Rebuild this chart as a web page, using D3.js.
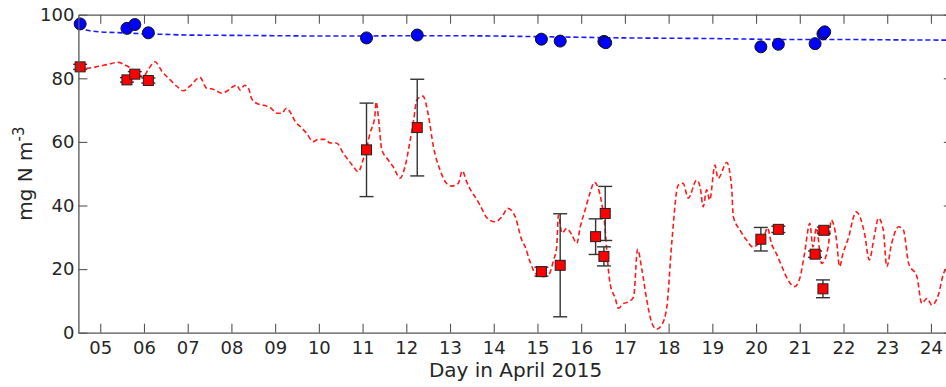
<!DOCTYPE html>
<html>
<head>
<meta charset="utf-8">
<script src="https://cdn.jsdelivr.net/npm/d3@7"></script>
<style>
  html, body { margin: 0; padding: 0; background: #fff; }
  svg { display: block; }
  text { font-family: "DejaVu Sans", sans-serif; }
</style>
</head>
<body>
<div id="chart"></div>
<script>
// x ticks: days in April 2015
const dayTicks = [5, 6, 7, 8, 9, 10, 11, 12, 13, 14, 15, 16, 17, 18, 19, 20, 21, 22, 23, 24];
const yTicks = [0, 20, 40, 60, 80, 100];

// blue dashed model line
const blueLineDays = [4.5, 4.6, 4.7, 4.85, 5.0, 5.5, 6.0, 6.5, 7, 8, 9, 10, 11, 12, 13, 14, 15, 16, 17, 18, 19, 20, 21, 22, 23, 24.5];
const blueLineVals = [96.3, 95.6, 95.1, 94.8, 94.6, 94.3, 94.0, 93.8, 93.6, 93.5, 93.4, 93.3, 93.3, 93.4, 93.4, 93.3, 93.1, 92.9, 92.7, 92.6, 92.5, 92.3, 92.2, 92.2, 92.1, 92.0];

// red dashed model line
const redLineDays = [4.5, 4.65, 4.9, 5.15, 5.41, 5.55, 5.71, 5.85, 5.98, 6.1, 6.25, 6.42, 6.6, 6.75, 6.9, 7.05, 7.28, 7.43, 7.6, 7.78, 7.9, 8.04, 8.12, 8.2, 8.3, 8.4,
  8.46, 8.58, 8.75, 8.88, 9.04, 9.15, 9.26, 9.38, 9.46, 9.6, 9.72, 9.87, 9.99, 10.14, 10.25, 10.41, 10.56, 10.7, 10.79, 10.9, 11.01, 11.1, 11.17, 11.28, 11.31, 11.36,
  11.44, 11.55, 11.7, 11.86, 11.97, 12.09, 12.17, 12.24, 12.38, 12.51, 12.62, 12.77, 12.92, 13.04, 13.19, 13.28, 13.38, 13.47, 13.57, 13.69, 13.85, 14.03, 14.19,
  14.32, 14.49, 14.64, 14.72, 14.83, 14.95, 15.1, 15.25, 15.37, 15.44, 15.48, 15.56, 15.67, 15.79, 15.9, 15.98, 16.09, 16.21, 16.3, 16.39, 16.47, 16.55, 16.59,
  16.66, 16.78, 16.85, 16.97, 17.08, 17.2, 17.29, 17.39, 17.5, 17.62, 17.73, 17.84, 17.96, 18.07, 18.22, 18.33, 18.45, 18.64, 18.72, 18.79, 18.87, 18.94, 19.06,
  19.13, 19.33, 19.44, 19.48, 19.63, 19.78, 19.93, 20.05, 20.2, 20.26, 20.35, 20.46, 20.6, 20.73, 20.88, 21.0, 21.11, 21.23, 21.3, 21.38, 21.5, 21.65, 21.72,
  21.84, 21.91, 21.99, 22.1, 22.29, 22.48, 22.59, 22.7, 22.8, 22.91, 22.99, 23.1, 23.26, 23.37, 23.49, 23.68, 23.79, 23.91, 24.02, 24.17, 24.29, 24.39, 24.5];
const redLineVals = [83.5, 83.1, 83.6, 84.3, 85.0, 84.3, 83.1, 81.5, 80.5, 82.8, 85.2, 82.0, 79.5, 77.5, 76.1, 77.5, 80.3, 76.9, 76.5, 75.3, 76.0, 77.4, 77.9, 76.3, 77.8, 76.5,
  73.7, 72.1, 71.5, 70.9, 69.0, 69.0, 70.6, 68.5, 66.4, 64.5, 62.7, 60.1, 60.8, 60.8, 59.7, 59.6, 56.4, 53.8, 52.2, 50.6, 54.3, 58.5, 62.7, 68.0, 72.6, 68.0,
  57.5, 55.0, 52.2, 48.6, 52.2, 60.6, 67.0, 73.2, 74.4, 68.0, 58.5, 51.2, 47.0, 46.1, 47.0, 50.9, 47.5, 44.9, 42.8, 40.0, 36.0, 34.9, 36.5,
  39.1, 36.5, 29.2, 27.0, 22.3, 18.7, 17.6, 18.1, 22.9, 27.0, 37.0, 31.3, 32.8, 30.7, 28.1, 33.3, 38.6, 44.3, 47.3, 45.4, 40.7, 32.3, 25.0,
  15.5, 10.8, 7.7, 9.2, 9.7, 11.3, 26.2, 19.7, 10.3, 2.9, 1.1, 2.4, 8.2, 28.0, 46.4, 47.0, 42.3, 48.0, 45.9, 39.6, 44.9, 41.7, 52.7,
  48.5, 53.5, 45.9, 36.5, 32.3, 29.2, 26.9, 28.0, 31.0, 33.0, 28.1, 25.0, 20.5, 16.6, 14.5, 17.1, 25.0, 34.4, 27.0, 33.0, 21.8, 27.0, 35.4,
  29.2, 20.8, 25.0, 29.2, 38.0, 31.3, 22.9, 30.0, 36.0, 32.3, 20.8, 28.0, 33.3, 32.3, 21.8, 17.6, 9.2, 10.8, 8.7, 11.9, 18.7, 20.8, 24.5];

// blue circle observations
const circleDays = [4.54, 5.61, 5.79, 6.10, 11.09, 12.25, 15.09, 15.52, 16.52, 16.56, 20.11, 20.51, 21.35, 21.53, 21.57];
const circleVals = [97.1, 95.7, 96.9, 94.3, 92.7, 93.6, 92.3, 91.7, 91.6, 91.2, 89.9, 90.7, 90.9, 94.0, 94.6];

// red square observations with error bars
const squareDays = [4.54, 5.61, 5.79, 6.10, 11.09, 12.25, 15.09, 15.52, 16.33, 16.55, 16.52, 20.11, 20.51, 21.35, 21.55, 21.53];
const squareVals = [83.6, 79.5, 81.3, 79.3, 57.5, 64.5, 19.2, 21.2, 30.2, 37.5, 24.0, 29.4, 32.5, 24.7, 32.2, 13.8];
const squareErrs = [0.8, 0.7, 0.8, 0.8, 14.7, 15.2, 1.4, 16.2, 5.6, 8.5, 3.0, 3.7, 1.0, 1.0, 1.0, 2.8];

const W = 946, H = 387;
const margin = { top: 14.7, right: -6.8, bottom: 54.3, left: 78.4 };
const width = W - margin.left - margin.right;
const height = H - margin.top - margin.bottom;

const svg = d3.select('#chart').append('svg')
  .attr('width', W)
  .attr('height', H);

const g = svg.append('g')
  .attr('transform', `translate(${margin.left},${margin.top})`);

const x = d3.scaleLinear().domain([4.5, 24.5]).range([0, width]);
const y = d3.scaleLinear().domain([0, 100]).range([height, 0]);

g.append('defs').append('clipPath').attr('id', 'plotclip')
  .append('rect').attr('width', width).attr('height', height);

const plot = g.append('g').attr('clip-path', 'url(#plotclip)');

const line = d3.line()
  .x(d => x(d[0]))
  .y(d => y(d[1]));

// red model line
plot.append('path')
  .datum(redLineDays.map((d, i) => [d, redLineVals[i]]))
  .attr('fill', 'none')
  .attr('stroke', '#ff1a1a')
  .attr('stroke-width', 1.6)
  .attr('stroke-dasharray', '5,3')
  .attr('d', line.curve(d3.curveMonotoneX));

// blue model line
plot.append('path')
  .datum(blueLineDays.map((d, i) => [d, blueLineVals[i]]))
  .attr('fill', 'none')
  .attr('stroke', '#1a1aff')
  .attr('stroke-width', 1.6)
  .attr('stroke-dasharray', '5,3')
  .attr('d', line.curve(d3.curveMonotoneX));

// error bars
const sq = squareDays.map((d, i) => ({ day: d, val: squareVals[i], err: squareErrs[i] }));
const eb = g.append('g').attr('stroke', '#333').attr('stroke-width', 1.4);
sq.forEach(d => {
  const cx = x(d.day);
  eb.append('line').attr('x1', cx).attr('x2', cx).attr('y1', y(d.val - d.err)).attr('y2', y(d.val + d.err));
  eb.append('line').attr('x1', cx - 7).attr('x2', cx + 7).attr('y1', y(d.val - d.err)).attr('y2', y(d.val - d.err));
  eb.append('line').attr('x1', cx - 7).attr('x2', cx + 7).attr('y1', y(d.val + d.err)).attr('y2', y(d.val + d.err));
});

// squares
g.append('g').selectAll('rect')
  .data(sq)
  .join('rect')
  .attr('x', d => x(d.day) - 5)
  .attr('y', d => y(d.val) - 5)
  .attr('width', 10)
  .attr('height', 10)
  .attr('fill', '#ff0000')
  .attr('stroke', '#222')
  .attr('stroke-width', 1);

// circles
g.append('g').selectAll('circle')
  .data(circleDays.map((d, i) => ({ day: d, val: circleVals[i] })))
  .join('circle')
  .attr('cx', d => x(d.day))
  .attr('cy', d => y(d.val))
  .attr('r', 6)
  .attr('fill', '#0000ff')
  .attr('stroke', '#111')
  .attr('stroke-width', 1);

// axes (ticks inward)
const axisColor = '#555';
const styleAxis = sel => {
  sel.selectAll('.domain').attr('stroke', axisColor).attr('stroke-width', 1.3);
  sel.selectAll('.tick line').attr('stroke', axisColor).attr('stroke-width', 1.1);
  sel.selectAll('.tick text').attr('fill', '#262626').style('font-size', '18px').style('font-family', '"DejaVu Sans", sans-serif');
};

g.append('g')
  .attr('transform', `translate(0,${height})`)
  .call(d3.axisBottom(x).tickValues(dayTicks).tickFormat(d3.format('02d')).tickSize(-9).tickSizeOuter(0).tickPadding(9))
  .call(styleAxis);

g.append('g')
  .call(d3.axisTop(x).tickValues(dayTicks).tickFormat('').tickSize(-9).tickSizeOuter(0))
  .call(styleAxis);

g.append('g')
  .call(d3.axisLeft(y).tickValues(yTicks).tickSize(-9).tickSizeOuter(0).tickPadding(4))
  .call(styleAxis);

g.append('g')
  .attr('transform', `translate(${width},0)`)
  .call(d3.axisRight(y).tickValues(yTicks).tickFormat('').tickSize(-9).tickSizeOuter(0))
  .call(styleAxis);

// axis titles
svg.append('text')
  .attr('x', margin.left + width / 2)
  .attr('y', 377)
  .attr('text-anchor', 'middle')
  .attr('fill', '#262626')
  .style('font-size', '20px')
  .text('Day in April 2015');

const yl = svg.append('text')
  .attr('transform', `translate(32,${margin.top + height / 2}) rotate(-90)`)
  .attr('text-anchor', 'middle')
  .attr('fill', '#262626')
  .style('font-size', '20px');
yl.append('tspan').text('mg N m');
yl.append('tspan').attr('dy', -8).style('font-size', '15px').text('-3');
</script>
</body>
</html>
